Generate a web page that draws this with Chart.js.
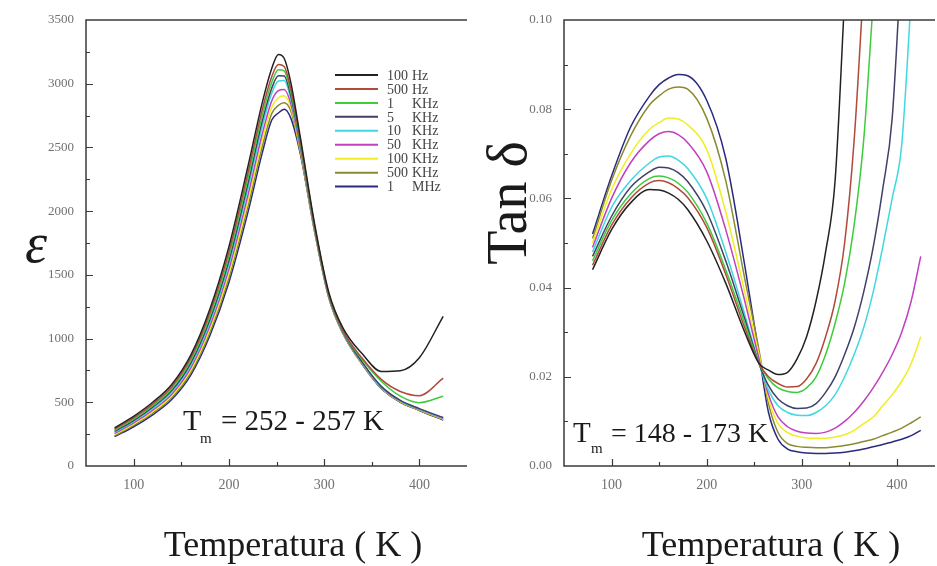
<!DOCTYPE html>
<html>
<head>
<meta charset="utf-8">
<script src="https://cdn.jsdelivr.net/npm/chart.js@4.4.1/dist/chart.umd.min.js"></script>
<style>
  body { margin: 0; background: #fff; overflow: hidden; }
  #wrap { position: relative; width: 937px; height: 566px; }
  canvas { position: absolute; top: 0; }
</style>
</head>
<body>
<div id="wrap">
  <canvas id="epsChart" width="470" height="566" style="left:0;width:470px;height:566px"></canvas>
  <canvas id="tanChart" width="467" height="566" style="left:470px;width:467px;height:566px"></canvas>
</div>
<script>
// frequencies (legend)
const freqNum  = ['100', '500', '1', '5', '10', '50', '100', '500', '1'];
const freqUnit = ['Hz', 'Hz', 'KHz', 'KHz', 'KHz', 'KHz', 'KHz', 'KHz', 'MHz'];

// temperatures (K)
const tempEps = [80, 100, 120, 140, 160, 180, 200, 220, 235, 245, 252, 258, 265, 275, 290, 305, 320, 340, 360, 380, 400, 425];
const tempTan = [80, 100, 120, 140, 150, 160, 170, 180, 200, 220, 240, 255, 265, 275, 285, 295, 305, 315, 325, 335, 345, 355, 365, 375, 385, 395, 405, 415, 425];
const xTicks = [100, 200, 300, 400];

// permittivity
const eps100Hz = [300, 390, 500, 640, 870, 1230, 1720, 2350, 2850, 3120, 3230, 3200, 3010, 2580, 1900, 1360, 1080, 880, 742, 748, 850, 1175];
const eps500Hz = [290, 378, 485, 622, 848, 1200, 1680, 2300, 2795, 3055, 3150, 3135, 2960, 2555, 1885, 1345, 1060, 845, 680, 585, 552, 690];
const eps1kHz  = [280, 367, 473, 607, 828, 1173, 1645, 2258, 2750, 3010, 3110, 3100, 2935, 2540, 1875, 1340, 1055, 835, 665, 548, 497, 548];
const eps5kHz  = [272, 357, 462, 592, 808, 1148, 1610, 2215, 2705, 2965, 3062, 3060, 2905, 2525, 1868, 1335, 1050, 815, 625, 515, 450, 380];
const eps10kHz = [264, 348, 451, 579, 790, 1125, 1580, 2175, 2660, 2925, 3022, 3025, 2880, 2512, 1862, 1330, 1046, 810, 620, 512, 447, 376];
const eps50kHz = [256, 338, 439, 564, 770, 1098, 1545, 2125, 2605, 2865, 2945, 2955, 2845, 2495, 1855, 1325, 1042, 806, 616, 509, 444, 372];
const eps100kHz = [247, 328, 427, 550, 752, 1073, 1510, 2080, 2555, 2815, 2890, 2905, 2815, 2480, 1850, 1322, 1040, 803, 613, 506, 441, 368];
const eps500kHz = [238, 318, 414, 535, 732, 1048, 1475, 2035, 2505, 2765, 2830, 2850, 2785, 2465, 1845, 1320, 1038, 800, 610, 503, 438, 364];
const eps1MHz  = [230, 308, 402, 522, 714, 1022, 1440, 1990, 2455, 2715, 2770, 2800, 2730, 2450, 1840, 1318, 1036, 798, 608, 500, 436, 360];

// loss tangent
const tan100Hz = [0.044, 0.053, 0.059, 0.062, 0.0619, 0.0612, 0.0598, 0.0575, 0.0505, 0.041, 0.030, 0.023, 0.0215, 0.0205, 0.021, 0.024, 0.029, 0.037, 0.048, 0.064, 0.105, null, null, null, null, null, null, null, null];
const tan500Hz = [0.045, 0.054, 0.060, 0.0635, 0.064, 0.0635, 0.0622, 0.0602, 0.0535, 0.043, 0.031, 0.023, 0.020, 0.0185, 0.0177, 0.0178, 0.0195, 0.023, 0.029, 0.037, 0.050, 0.073, 0.108, null, null, null, null, null, null];
const tan1kHz  = [0.046, 0.055, 0.061, 0.0645, 0.065, 0.0646, 0.0634, 0.0614, 0.0545, 0.044, 0.032, 0.023, 0.0195, 0.0175, 0.0167, 0.0165, 0.0175, 0.020, 0.025, 0.032, 0.041, 0.054, 0.073, 0.104, null, null, null, null, null];
const tan5kHz  = [0.047, 0.056, 0.0625, 0.066, 0.067, 0.0668, 0.0658, 0.0638, 0.057, 0.046, 0.033, 0.023, 0.018, 0.015, 0.0135, 0.0129, 0.013, 0.014, 0.0165, 0.020, 0.025, 0.031, 0.039, 0.049, 0.062, 0.078, 0.115, null, null];
const tan10kHz = [0.048, 0.058, 0.064, 0.068, 0.0693, 0.0695, 0.0686, 0.0667, 0.060, 0.048, 0.034, 0.023, 0.017, 0.0135, 0.012, 0.0114, 0.0113, 0.012, 0.0135, 0.016, 0.020, 0.025, 0.031, 0.039, 0.049, 0.060, 0.072, 0.105, null];
const tan50kHz = [0.049, 0.060, 0.068, 0.073, 0.0745, 0.075, 0.0743, 0.0725, 0.066, 0.053, 0.037, 0.024, 0.016, 0.011, 0.0088, 0.0078, 0.0074, 0.0073, 0.0076, 0.0085, 0.010, 0.012, 0.0145, 0.0175, 0.021, 0.025, 0.030, 0.037, 0.047];
const tan100kHz = [0.050, 0.062, 0.070, 0.0755, 0.077, 0.078, 0.0778, 0.0765, 0.071, 0.057, 0.039, 0.025, 0.015, 0.0095, 0.0075, 0.0067, 0.0063, 0.0062, 0.0062, 0.0065, 0.007, 0.008, 0.0095, 0.011, 0.0135, 0.016, 0.019, 0.023, 0.029];
const tan500kHz = [0.051, 0.064, 0.074, 0.081, 0.083, 0.0845, 0.085, 0.0845, 0.078, 0.064, 0.042, 0.026, 0.014, 0.0075, 0.005, 0.0044, 0.0042, 0.0041, 0.0041, 0.0043, 0.0046, 0.005, 0.0055, 0.006, 0.0068, 0.0076, 0.0085, 0.0097, 0.011];
const tan1MHz  = [0.052, 0.065, 0.076, 0.083, 0.0855, 0.087, 0.0878, 0.0875, 0.082, 0.069, 0.045, 0.025, 0.012, 0.006, 0.0038, 0.0032, 0.0029, 0.0028, 0.0028, 0.0029, 0.0031, 0.0034, 0.0038, 0.0043, 0.0048, 0.0054, 0.006, 0.0068, 0.008];

const epsSeries = [eps100Hz, eps500Hz, eps1kHz, eps5kHz, eps10kHz, eps50kHz, eps100kHz, eps500kHz, eps1MHz];
const tanSeries = [tan100Hz, tan500Hz, tan1kHz, tan5kHz, tan10kHz, tan50kHz, tan100kHz, tan500kHz, tan1MHz];
const lineColors = ['#222222', '#b04a3a', '#3ccc3c', '#404068', '#40d8e0', '#c040c0', '#f0ee20', '#8a8a30', '#2a2a80'];

Chart.defaults.font.family = "'Liberation Serif', 'DejaVu Serif', serif";
Chart.defaults.color = '#707070';

// axes frame, inward ticks, labels and legend
const decor = {
  id: 'decor',
  afterDraw(chart, args, o) {
    const ctx = chart.ctx, a = chart.chartArea, xs = chart.scales.x, ys = chart.scales.y;
    ctx.save();
    ctx.strokeStyle = '#3a3a3a';
    ctx.lineWidth = 1.5;
    ctx.beginPath();
    ctx.moveTo(a.right, a.top); ctx.lineTo(a.left, a.top);
    ctx.lineTo(a.left, a.bottom); ctx.lineTo(a.right, a.bottom);
    ctx.stroke();

    ctx.lineWidth = 1.2;
    ctx.beginPath();
    for (let i = 1; ; i++) {
      const v = xs.min + i * o.xMinor;
      if (v >= xs.max) break;
      const len = v % o.xMajor === 0 ? 7 : 4;
      const px = Math.round(xs.getPixelForValue(v)) + 0.5;
      ctx.moveTo(px, a.bottom); ctx.lineTo(px, a.bottom - len);
    }
    for (let i = 1; ; i++) {
      const v = ys.min + i * o.yMinor;
      if (v >= ys.max - 1e-9) break;
      const len = i % 2 === 0 ? 7 : 4;
      const py = Math.round(ys.getPixelForValue(v)) + 0.5;
      ctx.moveTo(a.left, py); ctx.lineTo(a.left + len, py);
    }
    ctx.stroke();

    ctx.fillStyle = '#1a1a1a';
    ctx.textBaseline = 'alphabetic';
    for (const t of o.texts) {
      ctx.save();
      ctx.font = t.font;
      ctx.textAlign = t.align || 'left';
      ctx.translate(t.x, t.y);
      if (t.rot) ctx.rotate(t.rot);
      ctx.fillText(t.s, 0, 0);
      ctx.restore();
    }

    if (o.legend) {
      const L = o.legend;
      ctx.font = "14px 'Liberation Serif'";
      ctx.fillStyle = '#444';
      ctx.textAlign = 'left';
      ctx.textBaseline = 'middle';
      chart.data.datasets.forEach((ds, i) => {
        const y = L.y + i * L.dy;
        ctx.strokeStyle = ds.borderColor;
        ctx.lineWidth = 2;
        ctx.beginPath();
        ctx.moveTo(L.x, y); ctx.lineTo(L.x + 43, y);
        ctx.stroke();
        ctx.fillText(freqNum[i], L.x + 52, y + 1);
        ctx.fillText(freqUnit[i], L.x + 77, y + 1);
      });
    }
    ctx.restore();
  }
};

function makeChart(id, temps, series, xOpt, yOpt, yWidth, padRight, deco) {
  return new Chart(document.getElementById(id), {
    type: 'line',
    data: {
      datasets: series.map((vals, i) => ({
        label: freqNum[i] + ' ' + freqUnit[i],
        data: temps.map((t, j) => ({ x: t, y: vals[j] })),
        borderColor: lineColors[i],
        borderWidth: 1.5,
        pointRadius: 0,
        fill: false,
        cubicInterpolationMode: 'monotone',
        spanGaps: false
      }))
    },
    options: {
      responsive: false,
      animation: false,
      devicePixelRatio: 1,
      layout: { padding: { top: 20, right: padRight, left: 0, bottom: 0 } },
      plugins: { legend: { display: false }, tooltip: { enabled: false }, decor: deco },
      scales: {
        x: Object.assign({
          type: 'linear',
          grid: { display: false },
          border: { display: false },
          ticks: { padding: 3, font: { size: 14 }, maxRotation: 0, autoSkip: false, callback: v => String(v) },
          afterBuildTicks: s => { s.ticks = xTicks.map(v => ({ value: v })); },
          afterFit: s => { s.height = 100; }
        }, xOpt),
        y: Object.assign({
          grid: { display: false },
          border: { display: false },
          afterFit: s => { s.width = yWidth; }
        }, yOpt)
      }
    },
    plugins: [decor]
  });
}

makeChart('epsChart', tempEps, epsSeries,
  { min: 50, max: 450 },
  { min: 0, max: 3500, ticks: { stepSize: 500, padding: 4, font: { size: 13 }, callback: v => String(v) } },
  86, 3,
  {
    xMinor: 50, xMajor: 100, yMinor: 250,
    legend: { x: 335, y: 75, dy: 13.95 },
    texts: [
      { s: 'ε', x: 36, y: 262, font: "italic 56px 'Liberation Serif'", align: 'center' },
      { s: 'T', x: 183, y: 430, font: "30px 'Liberation Serif'" },
      { s: 'm', x: 200, y: 443, font: "15px 'Liberation Serif'" },
      { s: '= 252 - 257 K', x: 221, y: 430, font: "29px 'Liberation Serif'" },
      { s: 'Temperatura ( K )', x: 293, y: 556, font: "36px 'Liberation Serif'", align: 'center' }
    ]
  });

makeChart('tanChart', tempTan, tanSeries,
  { min: 50, max: 440 },
  { min: 0, max: 0.1, ticks: { stepSize: 0.02, padding: 4, font: { size: 13 }, callback: v => v.toFixed(2) } },
  94, 2,
  {
    xMinor: 50, xMajor: 100, yMinor: 0.01,
    texts: [
      { s: 'Tan δ', x: 56, y: 203, font: "56px 'Liberation Serif'", align: 'center', rot: -Math.PI / 2 },
      { s: 'T', x: 103, y: 442, font: "29px 'Liberation Serif'" },
      { s: 'm', x: 121, y: 453, font: "15px 'Liberation Serif'" },
      { s: '= 148 - 173 K', x: 141, y: 442, font: "28px 'Liberation Serif'" },
      { s: 'Temperatura ( K )', x: 301, y: 556, font: "36px 'Liberation Serif'", align: 'center' }
    ]
  });
</script>
</body>
</html>
